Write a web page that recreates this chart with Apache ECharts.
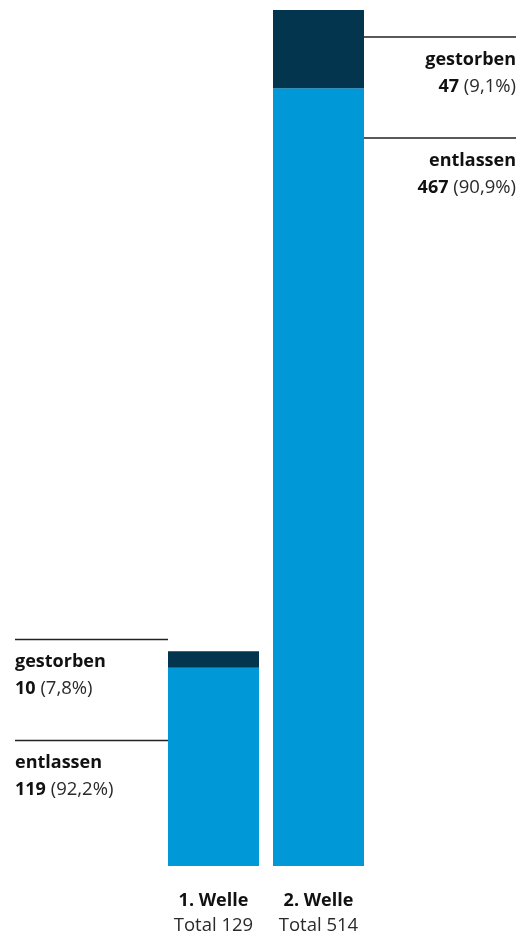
<!DOCTYPE html>
<html>
<head>
<meta charset="utf-8">
<script src="https://cdn.jsdelivr.net/npm/echarts@6/dist/echarts.min.js"></script>
<style>
  html, body { margin: 0; padding: 0; background: #fff; }
  #chart { width: 519px; height: 932px; }
</style>
</head>
<body>
<div id="chart"></div>
<script>
const waves = ['1. Welle', '2. Welle'];
const entlassen = [119, 467];
const gestorben = [10, 47];

const FONT = '"Open Sans", sans-serif';
const LIGHT = '#0098d7';
const DARK = '#03354f';

const totals = waves.map((w, i) => entlassen[i] + gestorben[i]);
const pct = (v, t) => (Math.round(v / t * 1000) / 10).toFixed(1).replace('.', ',') + '%';

const chart = echarts.init(document.getElementById('chart'));

function note(x, y, align, title, value, total) {
  return [
    {
      type: 'text',
      style: { x: x, y: y, text: title, textAlign: align, textVerticalAlign: 'middle',
        font: 'bold 18px ' + FONT, fill: '#111' }
    },
    {
      type: 'text',
      style: { x: x, y: y + 27, text: '{b|' + value + '}{n| (' + pct(value, total) + ')}',
        textAlign: align, textVerticalAlign: 'middle',
        rich: {
          b: { fontFamily: FONT, fontWeight: 'bold', fontSize: 18, fill: '#111' },
          n: { fontFamily: FONT, fontSize: 18.5, fill: '#2a2a2a' }
        } }
    }
  ];
}

function rule(x1, x2, y) {
  return { type: 'line', shape: { x1: x1, y1: y, x2: x2, y2: y },
    style: { stroke: '#222', lineWidth: 1.5 } };
}

chart.setOption({
  animation: false,
  grid: { left: 161, right: 148, top: 10, bottom: 66, containLabel: false, outerBoundsMode: 'none' },
  xAxis: {
    type: 'category',
    data: waves,
    axisLine: { show: false },
    axisTick: { show: false },
    axisLabel: {
      margin: 22,
      formatter: (v, i) => '{w|' + v + '}\n{t|Total ' + totals[i] + '}',
      rich: {
        w: { fontFamily: FONT, fontWeight: 'bold', fontSize: 18, color: '#111', lineHeight: 25 },
        t: { fontFamily: FONT, fontSize: 18.5, color: '#2a2a2a', lineHeight: 25 }
      }
    }
  },
  yAxis: {
    type: 'value', min: 0, max: 514,
    show: false, splitLine: { show: false }
  },
  series: [
    { name: 'entlassen', type: 'bar', stack: 'a', barWidth: 91, data: entlassen,
      itemStyle: { color: LIGHT } },
    { name: 'gestorben', type: 'bar', stack: 'a', barWidth: 91, data: gestorben,
      itemStyle: { color: DARK } }
  ],
  graphic: [
    rule(15, 168, 639.5),
    rule(15, 168, 740.5),
    rule(364, 516, 37),
    rule(364, 516, 138),
    ...note(15, 662, 'left', 'gestorben', gestorben[0], totals[0]),
    ...note(15, 763, 'left', 'entlassen', entlassen[0], totals[0]),
    ...note(516, 60, 'right', 'gestorben', gestorben[1], totals[1]),
    ...note(516, 161, 'right', 'entlassen', entlassen[1], totals[1])
  ]
});
</script>
</body>
</html>
